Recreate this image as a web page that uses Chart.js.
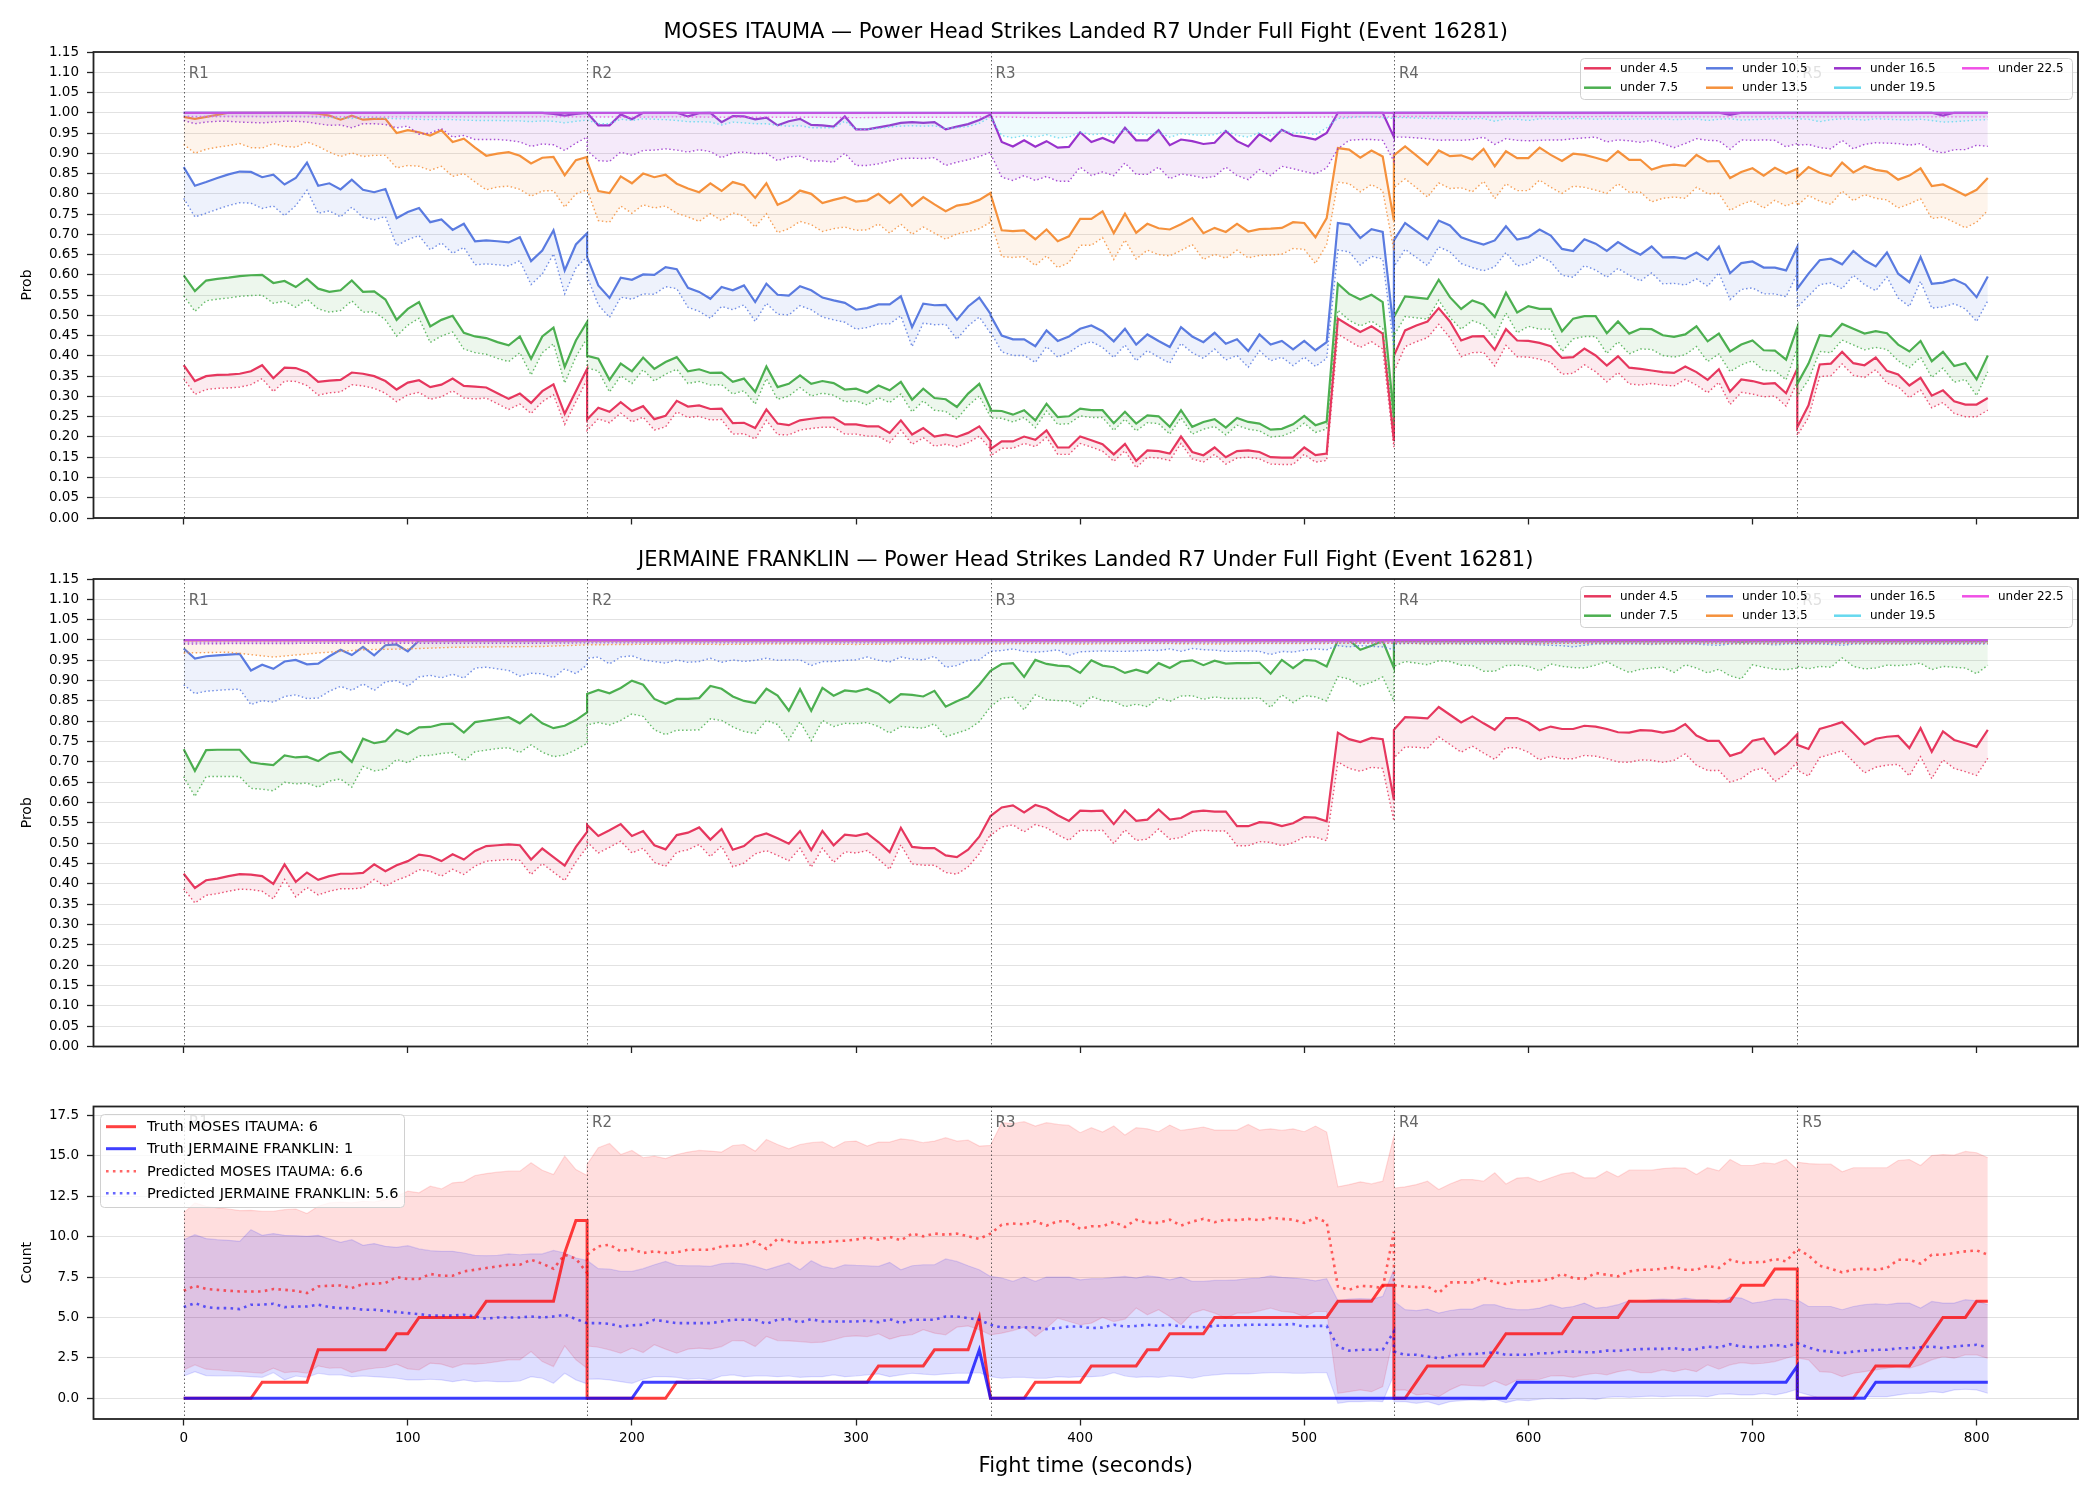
<!DOCTYPE html>
<html>
<head>
<meta charset="utf-8">
<script src="https://cdn.jsdelivr.net/npm/chart.js@4.4.1/dist/chart.umd.min.js"></script>
<style>
  body { margin: 0; background: #fff; width: 2100px; height: 1500px; overflow: hidden; }
  canvas { position: absolute; left: 0; }
</style>
</head>
<body>
<canvas id="c1" width="2100" height="540" style="top:0px"></canvas>
<canvas id="c2" width="2100" height="540" style="top:540px"></canvas>
<canvas id="c3" width="2100" height="420" style="top:1080px"></canvas>
<script>
// ---- data ----
const fighters = ['MOSES ITAUMA', 'JERMAINE FRANKLIN'];
const truthTotals = [6, 1];
const predTotals = [6.6, 5.6];
const thresholds = ['under 4.5', 'under 7.5', 'under 10.5', 'under 13.5', 'under 16.5', 'under 19.5', 'under 22.5'];
const rounds = [0, 180, 360, 540, 720];
const roundNames = ['R1', 'R2', 'R3', 'R4', 'R5'];
const xTicks = [0, 100, 200, 300, 400, 500, 600, 700, 800];
const probTicks = [0, 0.05, 0.1, 0.15, 0.2, 0.25, 0.3, 0.35, 0.4, 0.45, 0.5, 0.55, 0.6, 0.65, 0.7, 0.75, 0.8, 0.85, 0.9, 0.95, 1, 1.05, 1.1, 1.15];
const countTicks = [0, 2.5, 5, 7.5, 10, 12.5, 15, 17.5];

// fight time (s), the round boundaries appear twice (end of one round, start of next)
const T = [
  0,5,10,15,20,25,30,35,40,45,50,55,60,65,70,75,80,85,90,95,100,105,110,115,120,125,130,135,140,145,150,155,160,165,170,175,180,
  180,185,190,195,200,205,210,215,220,225,230,235,240,245,250,255,260,265,270,275,280,285,290,295,300,305,310,315,320,325,330,335,340,345,350,355,360,
  360,365,370,375,380,385,390,395,400,405,410,415,420,425,430,435,440,445,450,455,460,465,470,475,480,485,490,495,500,505,510,515,520,525,530,535,540,
  540,545,550,555,560,565,570,575,580,585,590,595,600,605,610,615,620,625,630,635,640,645,650,655,660,665,670,675,680,685,690,695,700,705,710,715,720,
  720,725,730,735,740,745,750,755,760,765,770,775,780,785,790,795,800,805];
// coarser times for the lines that sit near 1.0
const TS = [0,20,40,60,80,100,120,140,160,180, 180,200,220,240,260,280,300,320,340,360, 360,380,400,420,440,460,480,500,520,540, 540,560,580,600,620,640,660,680,700,720, 720,740,760,780,805];

// MOSES ITAUMA panel (solid line and dotted line per threshold)
const mSolid45 = [
  0.377,0.338,0.350,0.353,0.354,0.356,0.362,0.377,0.345,0.371,0.370,0.360,0.336,0.339,0.341,0.359,0.356,0.350,0.338,0.317,0.334,0.340,0.323,0.329,0.344,0.326,0.324,0.322,0.308,0.294,0.307,0.284,0.313,0.330,0.257,0.313,0.368,
  0.243,0.272,0.262,0.286,0.264,0.276,0.244,0.252,0.289,0.275,0.278,0.269,0.270,0.234,0.235,0.222,0.268,0.233,0.229,0.241,0.245,0.248,0.248,0.231,0.231,0.226,0.226,0.210,0.241,0.206,0.222,0.201,0.206,0.200,0.210,0.226,0.190,
  0.170,0.189,0.189,0.201,0.193,0.216,0.174,0.174,0.201,0.192,0.182,0.157,0.183,0.141,0.167,0.165,0.159,0.201,0.163,0.155,0.174,0.150,0.165,0.167,0.163,0.150,0.149,0.149,0.174,0.155,0.159,0.492,0.475,0.459,0.473,0.455,0.190,
  0.400,0.463,0.475,0.485,0.518,0.485,0.438,0.448,0.449,0.415,0.466,0.438,0.437,0.432,0.424,0.395,0.397,0.418,0.401,0.376,0.399,0.371,0.368,0.364,0.360,0.358,0.374,0.360,0.341,0.367,0.312,0.342,0.338,0.331,0.333,0.308,0.368,
  0.224,0.278,0.379,0.381,0.410,0.382,0.377,0.396,0.363,0.354,0.327,0.346,0.302,0.315,0.288,0.280,0.280,0.296];
const mDot45 = [
  0.344,0.305,0.317,0.320,0.321,0.323,0.329,0.344,0.312,0.338,0.337,0.327,0.303,0.309,0.311,0.329,0.326,0.320,0.308,0.287,0.304,0.310,0.293,0.299,0.314,0.296,0.294,0.296,0.282,0.268,0.281,0.258,0.287,0.304,0.231,0.287,0.342,
  0.216,0.245,0.235,0.259,0.237,0.249,0.217,0.225,0.262,0.248,0.251,0.242,0.243,0.207,0.208,0.195,0.241,0.206,0.205,0.217,0.221,0.224,0.224,0.207,0.207,0.202,0.202,0.186,0.217,0.182,0.198,0.177,0.182,0.176,0.186,0.202,0.170,
  0.153,0.172,0.172,0.184,0.176,0.199,0.157,0.157,0.184,0.175,0.165,0.140,0.166,0.124,0.150,0.148,0.142,0.184,0.146,0.138,0.157,0.133,0.148,0.150,0.146,0.133,0.132,0.132,0.157,0.138,0.142,0.454,0.437,0.421,0.435,0.417,0.175,
  0.360,0.423,0.435,0.445,0.478,0.445,0.398,0.408,0.409,0.375,0.426,0.398,0.397,0.392,0.384,0.355,0.357,0.378,0.361,0.336,0.359,0.331,0.328,0.332,0.328,0.326,0.342,0.328,0.309,0.335,0.280,0.310,0.306,0.299,0.301,0.276,0.336,
  0.204,0.248,0.349,0.351,0.380,0.352,0.347,0.366,0.333,0.324,0.297,0.316,0.272,0.285,0.258,0.250,0.250,0.266];
const mSolid75 = [
  0.599,0.560,0.586,0.590,0.593,0.597,0.599,0.600,0.580,0.585,0.570,0.590,0.566,0.558,0.562,0.586,0.558,0.559,0.539,0.489,0.516,0.533,0.473,0.489,0.499,0.457,0.448,0.444,0.434,0.426,0.448,0.393,0.448,0.470,0.373,0.438,0.484,
  0.400,0.393,0.341,0.381,0.362,0.396,0.368,0.385,0.397,0.362,0.367,0.358,0.359,0.336,0.344,0.311,0.374,0.323,0.331,0.352,0.331,0.338,0.333,0.317,0.319,0.309,0.327,0.315,0.336,0.292,0.319,0.296,0.293,0.274,0.307,0.331,0.270,
  0.265,0.264,0.255,0.266,0.241,0.282,0.249,0.251,0.270,0.266,0.266,0.234,0.262,0.233,0.253,0.251,0.225,0.266,0.225,0.237,0.244,0.223,0.247,0.237,0.233,0.218,0.220,0.231,0.252,0.229,0.238,0.578,0.553,0.539,0.551,0.533,0.250,
  0.496,0.547,0.544,0.541,0.588,0.545,0.516,0.537,0.527,0.496,0.556,0.507,0.523,0.516,0.516,0.461,0.492,0.498,0.498,0.456,0.485,0.455,0.467,0.466,0.451,0.447,0.453,0.473,0.436,0.455,0.411,0.428,0.438,0.414,0.413,0.391,0.470,
  0.331,0.381,0.451,0.448,0.479,0.467,0.455,0.461,0.456,0.428,0.411,0.437,0.387,0.410,0.375,0.382,0.342,0.401];
const mDot75 = [
  0.549,0.510,0.536,0.540,0.543,0.547,0.549,0.550,0.530,0.535,0.520,0.540,0.516,0.508,0.512,0.536,0.508,0.509,0.489,0.449,0.476,0.493,0.433,0.449,0.459,0.417,0.408,0.404,0.394,0.386,0.408,0.353,0.408,0.430,0.333,0.398,0.444,
  0.370,0.363,0.311,0.351,0.332,0.366,0.338,0.355,0.367,0.332,0.337,0.328,0.329,0.306,0.314,0.281,0.344,0.293,0.301,0.322,0.301,0.308,0.303,0.287,0.289,0.279,0.297,0.285,0.306,0.262,0.289,0.266,0.263,0.244,0.277,0.301,0.250,
  0.247,0.246,0.237,0.248,0.223,0.264,0.231,0.233,0.252,0.248,0.248,0.216,0.244,0.215,0.235,0.233,0.207,0.248,0.207,0.219,0.226,0.205,0.229,0.219,0.215,0.200,0.202,0.213,0.234,0.211,0.220,0.513,0.488,0.474,0.486,0.468,0.230,
  0.450,0.497,0.494,0.491,0.538,0.495,0.466,0.487,0.477,0.446,0.506,0.457,0.473,0.466,0.466,0.411,0.442,0.448,0.448,0.406,0.435,0.405,0.417,0.416,0.401,0.397,0.403,0.423,0.386,0.405,0.361,0.378,0.388,0.364,0.363,0.341,0.420,
  0.301,0.341,0.411,0.408,0.439,0.427,0.415,0.421,0.416,0.388,0.371,0.397,0.347,0.370,0.335,0.342,0.302,0.361];
const mSolid105 = [
  0.866,0.820,0.829,0.839,0.848,0.855,0.854,0.841,0.847,0.823,0.839,0.877,0.820,0.826,0.811,0.835,0.810,0.804,0.812,0.740,0.755,0.765,0.730,0.737,0.711,0.726,0.683,0.685,0.683,0.680,0.693,0.634,0.660,0.710,0.611,0.675,0.703,
  0.644,0.574,0.543,0.593,0.588,0.601,0.600,0.619,0.614,0.568,0.558,0.541,0.570,0.562,0.574,0.533,0.578,0.551,0.549,0.572,0.562,0.544,0.537,0.531,0.514,0.518,0.527,0.527,0.547,0.471,0.529,0.525,0.526,0.489,0.522,0.544,0.504,
  0.500,0.450,0.441,0.441,0.424,0.463,0.437,0.448,0.467,0.475,0.461,0.436,0.467,0.428,0.453,0.437,0.422,0.471,0.448,0.434,0.457,0.430,0.441,0.412,0.453,0.428,0.437,0.416,0.437,0.414,0.434,0.728,0.724,0.691,0.713,0.706,0.460,
  0.685,0.728,0.708,0.688,0.734,0.722,0.693,0.683,0.675,0.685,0.720,0.687,0.693,0.712,0.697,0.664,0.659,0.688,0.677,0.659,0.681,0.664,0.650,0.670,0.643,0.644,0.640,0.655,0.637,0.670,0.604,0.629,0.633,0.618,0.618,0.611,0.669,
  0.566,0.603,0.636,0.640,0.626,0.659,0.636,0.621,0.655,0.603,0.582,0.644,0.578,0.581,0.589,0.576,0.545,0.596];
const mDot105 = [
  0.789,0.743,0.752,0.762,0.771,0.778,0.777,0.764,0.770,0.746,0.771,0.809,0.752,0.758,0.743,0.767,0.742,0.736,0.744,0.672,0.687,0.697,0.662,0.679,0.653,0.668,0.625,0.627,0.625,0.622,0.635,0.576,0.602,0.652,0.553,0.617,0.645,
  0.596,0.526,0.495,0.545,0.540,0.553,0.552,0.571,0.566,0.520,0.510,0.493,0.522,0.514,0.526,0.485,0.530,0.503,0.501,0.524,0.514,0.496,0.489,0.483,0.466,0.470,0.479,0.479,0.499,0.423,0.481,0.477,0.478,0.441,0.474,0.496,0.456,
  0.460,0.410,0.401,0.401,0.384,0.423,0.397,0.408,0.427,0.435,0.421,0.396,0.427,0.388,0.413,0.397,0.382,0.431,0.408,0.394,0.417,0.390,0.401,0.372,0.413,0.388,0.397,0.376,0.397,0.374,0.394,0.661,0.657,0.624,0.646,0.639,0.420,
  0.620,0.663,0.643,0.623,0.669,0.657,0.628,0.618,0.610,0.620,0.655,0.622,0.628,0.647,0.632,0.599,0.594,0.623,0.612,0.594,0.616,0.599,0.585,0.605,0.578,0.579,0.575,0.590,0.572,0.605,0.539,0.564,0.568,0.553,0.553,0.546,0.604,
  0.520,0.548,0.576,0.580,0.566,0.599,0.576,0.561,0.595,0.543,0.522,0.584,0.518,0.521,0.529,0.516,0.485,0.536];
const mSolid135 = [
  0.990,0.985,0.990,0.995,1.000,1.000,1.000,1.000,1.000,1.000,1.000,1.000,0.998,0.993,0.983,0.993,0.983,0.985,0.985,0.950,0.957,0.952,0.944,0.957,0.928,0.936,0.914,0.894,0.899,0.903,0.894,0.875,0.889,0.891,0.846,0.883,0.891,
  0.880,0.807,0.802,0.843,0.826,0.850,0.841,0.847,0.825,0.813,0.804,0.826,0.807,0.829,0.821,0.790,0.826,0.773,0.785,0.808,0.800,0.777,0.785,0.792,0.781,0.784,0.800,0.777,0.799,0.770,0.792,0.774,0.757,0.771,0.775,0.785,0.802,
  0.800,0.710,0.708,0.710,0.688,0.712,0.683,0.695,0.738,0.738,0.757,0.703,0.751,0.704,0.726,0.715,0.712,0.725,0.740,0.703,0.716,0.706,0.726,0.707,0.713,0.714,0.716,0.730,0.728,0.693,0.740,0.913,0.909,0.889,0.907,0.892,0.734,
  0.895,0.917,0.895,0.872,0.907,0.893,0.895,0.885,0.911,0.868,0.905,0.888,0.888,0.914,0.896,0.881,0.899,0.896,0.889,0.881,0.905,0.884,0.884,0.860,0.869,0.872,0.869,0.896,0.880,0.881,0.839,0.854,0.863,0.845,0.864,0.850,0.862,
  0.841,0.866,0.852,0.844,0.877,0.853,0.868,0.859,0.855,0.835,0.845,0.863,0.819,0.823,0.810,0.796,0.810,0.839];
const mDot135 = [
  0.922,0.900,0.910,0.915,0.919,0.924,0.914,0.913,0.924,0.917,0.915,0.928,0.917,0.903,0.892,0.901,0.892,0.895,0.895,0.864,0.870,0.868,0.858,0.868,0.843,0.850,0.829,0.810,0.817,0.819,0.811,0.794,0.807,0.808,0.767,0.800,0.810,
  0.810,0.734,0.730,0.770,0.752,0.773,0.765,0.770,0.752,0.743,0.732,0.751,0.734,0.753,0.745,0.718,0.751,0.704,0.714,0.732,0.724,0.707,0.714,0.718,0.710,0.711,0.726,0.703,0.725,0.700,0.718,0.703,0.688,0.701,0.707,0.714,0.730,
  0.735,0.645,0.643,0.645,0.623,0.647,0.618,0.630,0.673,0.673,0.692,0.638,0.686,0.639,0.661,0.650,0.647,0.660,0.675,0.638,0.651,0.641,0.661,0.642,0.648,0.649,0.651,0.665,0.663,0.628,0.675,0.829,0.825,0.805,0.823,0.808,0.660,
  0.815,0.837,0.815,0.792,0.827,0.813,0.815,0.805,0.831,0.788,0.825,0.808,0.808,0.834,0.816,0.801,0.819,0.816,0.809,0.801,0.825,0.804,0.804,0.780,0.789,0.792,0.789,0.816,0.800,0.801,0.759,0.774,0.783,0.765,0.784,0.770,0.782,
  0.771,0.796,0.782,0.774,0.807,0.783,0.798,0.789,0.785,0.765,0.775,0.788,0.739,0.743,0.730,0.716,0.730,0.759];
const mSolid165 = [
  1,1,1,1,1,1,1,1,1,1,1,1,1,1,1,1,1,1,1,1,1,1,1,1,1,1,1,1,1,1,1,1,1,0.997,0.993,0.997,1,
  1.000,0.969,0.969,0.996,0.984,1.000,1.000,1.000,1.000,0.991,0.999,1.000,0.977,0.992,0.991,0.984,0.988,0.969,0.979,0.985,0.970,0.969,0.966,0.991,0.959,0.959,0.964,0.969,0.975,0.977,0.975,0.977,0.959,0.966,0.972,0.982,0.996,
  0.996,0.928,0.917,0.932,0.916,0.930,0.914,0.916,0.952,0.928,0.938,0.926,0.963,0.932,0.932,0.957,0.920,0.934,0.930,0.923,0.926,0.955,0.930,0.917,0.947,0.930,0.958,0.944,0.940,0.934,0.950,1.000,1.000,1.000,1.000,1.000,0.940,
  1,1,1,1,1,1,1,1,1,1,1,1,1,1,1,1,1,1,1,1,1,1,1,1,1,1,1,1,1,1,0.995,1,1,1,1,1,1,
  1,1,1,1,1,1,1,1,1,1,1,1,1,0.993,1,1,1,1];
const mDot165 = [
  0.981,0.973,0.977,0.979,0.979,0.977,0.976,0.975,0.977,0.979,0.979,0.977,0.973,0.969,0.970,0.963,0.973,0.973,0.971,0.963,0.967,0.947,0.950,0.961,0.940,0.944,0.934,0.934,0.934,0.932,0.928,0.917,0.923,0.921,0.907,0.925,0.940,
  0.907,0.882,0.880,0.903,0.895,0.907,0.908,0.911,0.908,0.903,0.909,0.904,0.889,0.901,0.903,0.899,0.900,0.882,0.891,0.893,0.881,0.881,0.878,0.900,0.870,0.870,0.874,0.881,0.887,0.888,0.887,0.889,0.870,0.878,0.884,0.892,0.903,
  0.900,0.841,0.833,0.845,0.833,0.843,0.831,0.831,0.866,0.845,0.854,0.845,0.876,0.848,0.848,0.866,0.837,0.849,0.845,0.839,0.843,0.866,0.845,0.835,0.860,0.845,0.868,0.862,0.855,0.849,0.864,0.911,0.932,0.934,0.934,0.932,0.880,
  0.940,0.940,0.938,0.936,0.932,0.933,0.932,0.934,0.940,0.922,0.936,0.932,0.931,0.932,0.933,0.933,0.936,0.938,0.940,0.928,0.933,0.931,0.927,0.932,0.924,0.914,0.924,0.936,0.932,0.931,0.910,0.933,0.932,0.933,0.932,0.916,0.924,
  0.920,0.922,0.914,0.911,0.932,0.911,0.922,0.926,0.925,0.924,0.920,0.924,0.907,0.901,0.909,0.909,0.920,0.917];
const mSolid195 = [1,1,1,1,1,1,1,1,1,1, 1,1,1,1,1,1,1,1,1,1, 1,1,1,1,1,1,1,1,1,1, 1,1,1,1,1,1,1,1,1,1, 1,1,1,1,1];
const mDot195 = [
  0.992,0.990,0.991,0.991,0.991,0.991,0.991,0.990,0.991,0.991,0.990,0.990,0.989,0.988,0.988,0.986,0.988,0.988,0.987,0.985,0.985,0.984,0.983,0.984,0.983,0.982,0.981,0.981,0.981,0.980,0.980,0.978,0.980,0.979,0.975,0.979,0.982,
  0.982,0.973,0.973,0.984,0.981,0.985,0.984,0.983,0.981,0.978,0.978,0.977,0.970,0.977,0.975,0.973,0.973,0.969,0.967,0.968,0.963,0.963,0.963,0.979,0.959,0.959,0.961,0.965,0.967,0.968,0.967,0.968,0.961,0.963,0.966,0.974,0.989,
  0.989,0.944,0.938,0.944,0.940,0.946,0.938,0.940,0.952,0.946,0.948,0.944,0.958,0.948,0.946,0.952,0.940,0.948,0.946,0.944,0.946,0.956,0.944,0.940,0.951,0.944,0.956,0.950,0.950,0.946,0.963,0.986,0.988,0.990,0.990,0.988,0.986,
  0.988,0.988,0.987,0.986,0.986,0.985,0.984,0.985,0.986,0.979,0.985,0.984,0.981,0.985,0.985,0.984,0.986,0.985,0.984,0.985,0.984,0.984,0.985,0.984,0.985,0.983,0.984,0.985,0.981,0.984,0.985,0.982,0.983,0.984,0.985,0.986,0.985,
  0.985,0.984,0.978,0.983,0.985,0.984,0.982,0.985,0.984,0.983,0.982,0.984,0.981,0.977,0.978,0.980,0.982,0.983];
const mSolid225 = [1,1,1,1,1,1,1,1,1,1, 1,1,1,1,1,1,1,1,1,1, 1,1,1,1,1,1,1,1,1,1, 1,1,1,1,1,1,1,1,1,1, 1,1,1,1,1];
const mDot225 = [0.991,0.991,0.991,0.991,0.990,0.990,0.990,0.990,0.990,0.990, 0.990,0.989,0.990,0.989,0.989,0.989,0.988,0.989,0.989,0.990,
  0.990,0.988,0.988,0.989,0.988,0.988,0.988,0.989,0.990,0.990, 0.991,0.991,0.990,0.991,0.990,0.991,0.990,0.990,0.990,0.990, 0.990,0.990,0.990,0.990,0.990];

// JERMAINE FRANKLIN panel
const jSolid45 = [
  0.425,0.390,0.409,0.413,0.419,0.424,0.423,0.419,0.400,0.448,0.405,0.428,0.410,0.419,0.425,0.425,0.427,0.448,0.431,0.446,0.456,0.472,0.468,0.456,0.473,0.460,0.481,0.493,0.495,0.497,0.495,0.460,0.487,0.466,0.445,0.491,0.528,
  0.545,0.518,0.532,0.547,0.518,0.530,0.495,0.485,0.520,0.526,0.539,0.509,0.535,0.484,0.493,0.516,0.524,0.512,0.499,0.530,0.483,0.530,0.495,0.521,0.518,0.524,0.503,0.478,0.538,0.491,0.488,0.488,0.470,0.466,0.484,0.516,0.567,
  0.567,0.588,0.593,0.576,0.594,0.586,0.569,0.555,0.580,0.579,0.580,0.547,0.581,0.555,0.558,0.583,0.558,0.562,0.577,0.580,0.578,0.578,0.542,0.542,0.552,0.550,0.542,0.549,0.564,0.563,0.554,0.772,0.756,0.749,0.759,0.756,0.606,
  0.779,0.810,0.809,0.807,0.835,0.816,0.797,0.812,0.795,0.779,0.808,0.808,0.797,0.778,0.787,0.781,0.781,0.789,0.787,0.781,0.773,0.772,0.778,0.777,0.772,0.777,0.793,0.765,0.752,0.752,0.715,0.724,0.752,0.758,0.719,0.740,0.768,
  0.742,0.732,0.781,0.789,0.798,0.771,0.743,0.757,0.762,0.764,0.734,0.783,0.725,0.775,0.754,0.746,0.737,0.779];
const jDot45 = [
  0.388,0.353,0.372,0.376,0.382,0.387,0.386,0.382,0.363,0.411,0.368,0.391,0.373,0.382,0.388,0.388,0.390,0.411,0.394,0.409,0.419,0.435,0.431,0.419,0.436,0.423,0.444,0.456,0.458,0.460,0.458,0.423,0.450,0.429,0.408,0.454,0.491,
  0.503,0.476,0.490,0.505,0.476,0.488,0.453,0.443,0.478,0.484,0.497,0.467,0.493,0.442,0.451,0.474,0.482,0.470,0.457,0.488,0.441,0.488,0.453,0.479,0.476,0.482,0.461,0.436,0.496,0.449,0.446,0.446,0.428,0.424,0.442,0.474,0.522,
  0.519,0.540,0.545,0.528,0.546,0.538,0.521,0.507,0.532,0.531,0.532,0.499,0.533,0.507,0.510,0.535,0.510,0.514,0.529,0.532,0.530,0.530,0.494,0.494,0.504,0.502,0.494,0.501,0.516,0.515,0.506,0.700,0.684,0.677,0.687,0.684,0.555,
  0.710,0.737,0.736,0.734,0.762,0.743,0.724,0.739,0.722,0.706,0.735,0.735,0.724,0.705,0.714,0.708,0.708,0.716,0.714,0.708,0.700,0.699,0.705,0.704,0.699,0.704,0.720,0.692,0.679,0.679,0.650,0.659,0.679,0.685,0.652,0.670,0.700,
  0.680,0.665,0.711,0.719,0.728,0.701,0.673,0.687,0.692,0.694,0.666,0.713,0.659,0.705,0.684,0.676,0.667,0.709];
const jSolid75 = [
  0.731,0.678,0.729,0.730,0.730,0.730,0.699,0.695,0.692,0.716,0.711,0.713,0.702,0.720,0.725,0.700,0.757,0.746,0.751,0.779,0.768,0.785,0.786,0.793,0.794,0.772,0.798,0.802,0.806,0.810,0.795,0.817,0.795,0.783,0.789,0.803,0.822,
  0.867,0.877,0.869,0.882,0.900,0.890,0.855,0.843,0.855,0.855,0.857,0.887,0.880,0.861,0.850,0.845,0.880,0.863,0.826,0.879,0.826,0.882,0.863,0.876,0.873,0.880,0.868,0.846,0.867,0.865,0.861,0.875,0.836,0.849,0.861,0.890,0.924,
  0.924,0.941,0.943,0.909,0.951,0.941,0.937,0.935,0.919,0.950,0.937,0.933,0.919,0.927,0.919,0.943,0.931,0.947,0.950,0.938,0.949,0.942,0.943,0.943,0.944,0.917,0.951,0.931,0.951,0.949,0.935,1.000,1.000,0.976,0.986,0.998,0.931,
  0.997,0.997,0.997,0.997,0.997,0.997,0.997,0.997,0.997,0.997,0.997,0.997,0.997,0.997,0.997,0.997,0.997,0.997,0.997,0.997,0.997,0.997,0.997,0.997,0.997,0.997,0.997,0.997,0.997,0.997,0.997,0.996,0.997,0.997,0.997,0.997,0.997,
  0.997,0.997,0.997,0.997,0.997,0.997,0.997,0.997,0.997,0.997,0.997,0.997,0.997,0.997,0.997,0.997,0.997,0.997];
const jDot75 = [
  0.664,0.615,0.664,0.664,0.664,0.664,0.635,0.633,0.629,0.650,0.646,0.648,0.638,0.653,0.658,0.638,0.689,0.678,0.682,0.706,0.698,0.715,0.716,0.721,0.723,0.703,0.725,0.729,0.733,0.735,0.723,0.742,0.724,0.713,0.717,0.730,0.746,
  0.791,0.797,0.791,0.802,0.818,0.812,0.779,0.767,0.778,0.778,0.779,0.806,0.802,0.786,0.775,0.770,0.802,0.792,0.754,0.799,0.752,0.802,0.787,0.795,0.794,0.797,0.787,0.771,0.787,0.785,0.783,0.794,0.762,0.771,0.780,0.799,0.836,
  0.836,0.857,0.859,0.828,0.865,0.853,0.851,0.850,0.836,0.861,0.851,0.849,0.836,0.842,0.836,0.858,0.849,0.862,0.863,0.854,0.860,0.856,0.856,0.856,0.858,0.834,0.865,0.846,0.863,0.860,0.850,0.910,0.904,0.887,0.896,0.909,0.849,
  0.935,0.947,0.943,0.939,0.949,0.947,0.938,0.937,0.923,0.923,0.937,0.938,0.935,0.924,0.941,0.935,0.932,0.931,0.938,0.947,0.932,0.920,0.928,0.931,0.933,0.920,0.939,0.931,0.919,0.928,0.912,0.904,0.939,0.933,0.928,0.927,0.931,
  0.935,0.929,0.935,0.933,0.956,0.935,0.929,0.931,0.938,0.937,0.939,0.943,0.927,0.935,0.933,0.931,0.917,0.938];
const jSolid105 = [
  0.979,0.954,0.960,0.962,0.964,0.966,0.925,0.939,0.929,0.947,0.951,0.940,0.942,0.960,0.976,0.963,0.983,0.962,0.987,0.989,0.972,0.999,0.999,0.999,0.999,0.999,0.999,0.999,0.999,0.999,0.999,0.999,0.999,0.999,0.999,0.999,0.999,
  0.999,0.999,0.999,0.999,0.999,0.999,0.999,0.999,0.999,0.999,0.999,0.999,0.999,0.999,0.999,0.999,0.999,0.999,0.999,0.999,0.999,0.999,0.999,0.999,0.999,0.999,0.999,0.999,0.999,0.999,0.999,0.999,0.999,0.999,0.999,0.999,0.999,
  0.999,0.999,0.999,0.999,0.999,0.999,0.999,0.999,0.999,0.999,0.999,0.999,0.999,0.999,0.999,0.999,0.999,0.999,0.999,0.999,0.999,0.999,0.999,0.999,0.999,0.999,0.999,0.999,0.999,0.999,0.999,0.999,0.999,0.999,0.999,0.999,0.999,
  0.999,0.999,0.999,0.999,0.999,0.999,0.999,0.999,0.999,0.999,0.999,0.999,0.999,0.999,0.999,0.999,0.999,0.999,0.999,0.999,0.999,0.999,0.999,0.999,0.999,0.999,0.999,0.999,0.999,0.999,0.999,0.999,0.999,0.999,0.999,0.999,0.999,
  0.999,0.999,0.999,0.999,0.999,0.999,0.999,0.999,0.999,0.999,0.999,0.999,0.999,0.999,0.999,0.999,0.999,0.999];
const jDot105 = [
  0.890,0.868,0.874,0.876,0.878,0.879,0.841,0.851,0.847,0.861,0.865,0.856,0.857,0.874,0.886,0.876,0.892,0.876,0.897,0.900,0.886,0.909,0.913,0.907,0.916,0.906,0.931,0.933,0.929,0.925,0.911,0.918,0.917,0.907,0.929,0.917,0.939,
  0.955,0.958,0.941,0.958,0.961,0.951,0.947,0.943,0.951,0.945,0.947,0.955,0.945,0.951,0.947,0.950,0.955,0.950,0.951,0.951,0.937,0.947,0.947,0.950,0.951,0.958,0.950,0.946,0.958,0.953,0.951,0.960,0.933,0.937,0.950,0.951,0.972,
  0.972,0.974,0.978,0.972,0.970,0.972,0.976,0.962,0.971,0.972,0.973,0.972,0.972,0.973,0.975,0.974,0.978,0.972,0.979,0.976,0.975,0.972,0.972,0.973,0.972,0.964,0.972,0.970,0.975,0.978,0.976,0.986,0.983,0.986,0.984,0.983,0.976,
  0.990,0.991,0.991,0.990,0.990,0.991,0.990,0.990,0.990,0.990,0.990,0.990,0.989,0.988,0.987,0.986,0.983,0.987,0.990,0.990,0.990,0.990,0.990,0.989,0.990,0.990,0.990,0.990,0.988,0.987,0.990,0.990,0.990,0.990,0.988,0.990,0.990,
  0.990,0.990,0.990,0.989,0.987,0.990,0.990,0.990,0.990,0.990,0.990,0.990,0.990,0.990,0.990,0.990,0.990,0.990];
const jSolid135 = [0.999,0.999,0.999,0.999,0.999,0.999,0.999,0.999,0.999,0.999, 0.999,0.999,0.999,0.999,0.999,0.999,0.999,0.999,0.999,0.999,
  0.999,0.999,0.999,0.999,0.999,0.999,0.999,0.999,0.999,0.999, 0.999,0.999,0.999,0.999,0.999,0.999,0.999,0.999,0.999,0.999, 0.999,0.999,0.999,0.999,0.999];
const jDot135 = [0.968,0.970,0.958,0.968,0.976,0.978,0.982,0.983,0.984,0.988, 0.988,0.989,0.990,0.989,0.990,0.990,0.989,0.990,0.990,0.990,
  0.990,0.991,0.990,0.991,0.991,0.990,0.991,0.991,0.992,0.992, 0.992,0.991,0.992,0.991,0.992,0.992,0.991,0.992,0.991,0.992, 0.992,0.992,0.991,0.992,0.992];
const jSolid165 = [1,1,1,1,1,1,1,1,1,1, 1,1,1,1,1,1,1,1,1,1, 1,1,1,1,1,1,1,1,1,1, 1,1,1,1,1,1,1,1,1,1, 1,1,1,1,1];
const jDot165 = [0.990,0.991,0.991,0.992,0.992,0.992,0.992,0.992,0.992,0.993, 0.993,0.993,0.993,0.993,0.993,0.993,0.993,0.993,0.993,0.993,
  0.993,0.993,0.993,0.993,0.993,0.993,0.993,0.993,0.993,0.993, 0.993,0.993,0.993,0.993,0.993,0.993,0.993,0.993,0.993,0.993, 0.993,0.993,0.993,0.993,0.993];
const jSolid195 = [1,1,1,1,1,1,1,1,1,1, 1,1,1,1,1,1,1,1,1,1, 1,1,1,1,1,1,1,1,1,1, 1,1,1,1,1,1,1,1,1,1, 1,1,1,1,1];
const jDot195 = [0.994,0.994,0.994,0.994,0.994,0.994,0.994,0.994,0.994,0.994, 0.994,0.994,0.994,0.994,0.994,0.994,0.994,0.994,0.994,0.994,
  0.994,0.994,0.994,0.994,0.994,0.994,0.994,0.994,0.994,0.994, 0.994,0.994,0.994,0.994,0.994,0.994,0.994,0.994,0.994,0.994, 0.994,0.994,0.994,0.994,0.994];
const jSolid225 = [1,1,1,1,1,1,1,1,1,1, 1,1,1,1,1,1,1,1,1,1, 1,1,1,1,1,1,1,1,1,1, 1,1,1,1,1,1,1,1,1,1, 1,1,1,1,1];
const jDot225 = [0.995,0.995,0.995,0.995,0.995,0.995,0.995,0.995,0.995,0.995, 0.995,0.995,0.995,0.995,0.995,0.995,0.995,0.995,0.995,0.995,
  0.995,0.995,0.995,0.995,0.995,0.995,0.995,0.995,0.995,0.995, 0.995,0.995,0.995,0.995,0.995,0.995,0.995,0.995,0.995,0.995, 0.995,0.995,0.995,0.995,0.995];

// count panel
const truthM = [
  0,0,0,0,0,0,0,1,1,1,1,1,3,3,3,3,3,3,3,4,4,5,5,5,5,5,5,6,6,6,6,6,6,6,9,11,11,
  0,0,0,0,0,0,0,0,1,1,1,1,1,1,1,1,1,1,1,1,1,1,1,1,1,1,2,2,2,2,2,3,3,3,3,5,0,
  0,0,0,0,1,1,1,1,1,2,2,2,2,2,3,3,4,4,4,4,5,5,5,5,5,5,5,5,5,5,5,6,6,6,6,7,7,
  0,0,1,2,2,2,2,2,2,3,4,4,4,4,4,4,5,5,5,5,5,6,6,6,6,6,6,6,6,6,6,7,7,7,8,8,8,
  0,0,0,0,0,0,1,2,2,2,2,3,4,5,5,5,6,6];
const truthJ = [
  0,0,0,0,0,0,0,0,0,0,0,0,0,0,0,0,0,0,0,0,0,0,0,0,0,0,0,0,0,0,0,0,0,0,0,0,0,
  0,0,0,0,0,1,1,1,1,1,1,1,1,1,1,1,1,1,1,1,1,1,1,1,1,1,1,1,1,1,1,1,1,1,1,3,0,
  0,0,0,0,0,0,0,0,0,0,0,0,0,0,0,0,0,0,0,0,0,0,0,0,0,0,0,0,0,0,0,0,0,0,0,0,0,
  0,0,0,0,0,0,0,0,0,0,0,1,1,1,1,1,1,1,1,1,1,1,1,1,1,1,1,1,1,1,1,1,1,1,1,1,2,
  0,0,0,0,0,0,0,1,1,1,1,1,1,1,1,1,1,1];
const predM = [
  6.65,6.96,6.76,6.71,6.65,6.61,6.61,6.61,6.76,6.71,6.65,6.51,6.92,6.96,6.98,6.82,7.07,7.09,7.13,7.50,7.38,7.38,7.69,7.58,7.58,7.85,7.95,8.06,8.16,8.26,8.26,8.57,8.33,8.02,8.88,8.64,7.75,
  8.88,9.40,9.50,9.09,9.24,8.99,9.09,8.99,9.03,9.19,9.19,9.19,9.40,9.44,9.46,9.71,9.24,9.86,9.71,9.61,9.65,9.65,9.71,9.75,9.81,9.96,9.81,9.98,9.77,10.19,10.02,10.19,10.12,10.19,10.02,9.86,10.19,
  10.19,10.74,10.81,10.76,10.95,10.68,10.95,10.95,10.48,10.64,10.64,10.91,10.60,11.05,10.85,10.85,11.05,10.68,10.93,11.10,10.89,11.05,11.01,11.10,11.01,11.16,11.10,11.05,10.85,11.16,10.89,6.92,6.71,6.96,6.92,6.82,10.30,
  7.00,6.92,6.88,6.92,6.51,7.17,7.17,7.17,7.44,7.17,7.07,7.23,7.23,7.27,7.38,7.69,7.44,7.38,7.75,7.64,7.54,7.85,7.95,7.95,8.02,8.12,7.95,7.95,8.20,8.06,8.57,8.37,8.41,8.43,8.62,8.47,9.24,
  9.24,8.84,8.20,8.02,7.79,7.95,8.02,7.95,8.06,8.57,8.57,8.33,8.88,8.88,8.99,9.09,9.15,8.88];
const predJ = [
  5.64,5.89,5.64,5.58,5.58,5.52,5.79,5.79,5.85,5.64,5.68,5.68,5.79,5.64,5.58,5.58,5.48,5.48,5.41,5.33,5.27,5.21,5.12,5.12,5.12,5.17,5.06,4.92,5.00,5.00,5.00,5.06,5.00,5.06,5.17,4.90,4.65,
  4.65,4.65,4.61,4.44,4.52,4.55,4.86,4.75,4.65,4.65,4.65,4.65,4.75,4.86,4.86,4.86,4.61,4.86,4.90,4.69,4.90,4.75,4.75,4.75,4.75,4.81,4.71,4.90,4.65,4.86,4.86,4.86,5.06,5.06,4.96,4.86,4.55,
  4.55,4.38,4.40,4.38,4.40,4.28,4.34,4.44,4.44,4.34,4.38,4.55,4.44,4.48,4.55,4.48,4.55,4.44,4.40,4.40,4.48,4.50,4.50,4.55,4.55,4.55,4.55,4.59,4.44,4.48,4.48,3.20,2.95,3.00,3.00,3.00,4.13,
  2.90,2.69,2.69,2.58,2.48,2.62,2.73,2.73,2.79,2.85,2.69,2.69,2.69,2.79,2.79,2.89,2.89,2.85,2.85,2.95,2.93,3.00,3.04,3.06,3.06,3.10,3.00,3.04,3.20,3.14,3.35,3.20,3.16,3.20,3.31,3.20,3.41,
  3.41,3.14,2.95,2.89,2.79,2.89,2.95,3.00,3.00,3.10,3.10,3.16,3.20,3.10,3.20,3.26,3.31,3.16];
const bandMHi = [
  11.47,12.09,11.88,11.78,11.71,11.61,11.63,11.57,11.57,11.67,11.71,11.43,11.88,12.09,12.13,12.09,12.19,12.15,12.29,12.50,12.81,12.71,13.12,12.95,13.33,13.39,13.78,13.90,13.99,14.05,14.05,14.57,14.11,13.84,14.98,14.15,13.78,
  14.46,15.50,15.76,15.08,15.33,14.88,14.98,14.83,15.08,15.23,15.33,15.29,15.23,15.64,15.70,15.29,16.01,15.70,15.43,15.70,15.81,15.87,15.50,15.87,15.91,15.60,15.85,15.85,16.05,15.97,15.81,15.91,16.12,15.91,15.97,15.60,15.64,
  15.64,17.05,17.00,17.11,16.84,17.05,16.94,16.88,16.43,16.74,16.47,16.84,16.28,16.74,16.67,16.49,16.90,16.57,16.67,16.78,16.59,16.59,16.59,16.94,16.59,16.67,16.57,16.67,16.49,16.84,16.47,13.08,13.22,13.39,13.26,13.43,16.22,
  13.00,13.08,13.22,13.43,12.91,13.26,13.53,13.53,13.43,13.95,13.26,13.62,13.66,13.39,13.64,13.88,13.97,13.64,13.64,14.05,13.70,14.11,14.11,14.11,14.21,14.26,14.24,13.84,14.26,14.07,14.77,14.40,14.40,14.57,14.50,14.77,14.15,
  14.60,14.52,14.48,14.48,14.01,14.26,14.26,14.26,14.26,14.71,14.77,14.40,15.02,15.08,15.04,15.27,15.19,14.88];
const bandMLo = [
  1.76,2.07,1.80,1.76,1.69,1.65,1.61,1.55,1.86,1.59,1.65,1.55,2.00,1.86,1.90,1.59,1.76,1.86,1.92,2.11,1.82,1.76,2.17,2.11,1.90,2.13,2.11,2.17,2.27,2.38,2.38,2.89,2.27,1.96,3.24,2.38,1.86,
  3.24,3.16,3.00,2.79,3.10,2.83,3.31,3.04,2.79,3.04,3.10,3.04,3.20,3.57,3.55,3.20,3.82,3.57,3.55,3.51,3.45,3.47,3.62,3.82,3.86,3.82,3.99,3.66,3.86,3.93,4.24,4.03,3.93,4.40,4.48,4.24,3.93,
  3.93,4.03,4.19,4.40,3.82,4.34,4.96,4.75,4.55,4.65,5.00,4.75,4.90,5.58,5.17,5.48,5.06,4.55,5.27,5.48,5.27,4.96,5.27,5.27,5.41,5.58,5.37,5.31,5.06,5.37,5.37,0.31,0.41,0.52,0.41,0.72,3.93,
  0.50,0.52,0.21,0.27,0.10,0.52,0.83,0.79,0.76,1.07,0.79,1.14,1.14,1.18,1.38,1.40,1.30,1.45,1.55,1.45,1.65,1.76,1.59,1.59,1.76,1.65,1.80,1.65,2.07,1.80,2.07,2.21,2.13,2.17,2.27,2.48,2.69,
  2.50,2.38,1.65,1.61,1.34,1.55,1.65,1.76,1.86,1.96,1.86,2.07,2.38,2.58,2.48,2.69,2.69,2.48];
const bandJHi = [
  9.81,10.12,9.88,9.81,9.77,9.71,10.43,10.08,10.19,10.08,10.06,10.02,10.08,9.86,9.65,9.81,9.46,9.57,9.40,9.34,9.44,9.24,9.13,9.09,9.09,8.99,8.84,8.82,8.84,8.93,8.88,8.93,8.93,9.15,8.99,8.68,8.53,
  8.53,8.02,8.00,7.85,7.85,8.02,8.26,8.47,8.22,8.20,8.20,8.16,8.33,8.37,8.31,8.16,7.95,8.16,8.37,7.95,8.51,8.16,8.02,8.26,8.22,8.20,8.16,8.41,7.95,8.20,8.26,8.26,8.62,8.47,8.20,7.95,7.54,
  7.54,7.44,7.23,7.50,7.23,7.50,7.50,7.50,7.33,7.40,7.40,7.48,7.54,7.44,7.58,7.50,7.33,7.50,7.23,7.23,7.29,7.29,7.33,7.40,7.44,7.58,7.48,7.44,7.38,7.27,7.40,6.05,6.14,6.16,6.14,6.30,7.95,
  6.00,5.48,5.43,5.52,5.27,5.43,5.52,5.52,5.79,5.79,5.58,5.48,5.48,5.58,5.79,5.58,5.68,5.89,5.58,5.64,5.79,6.05,5.99,6.10,6.14,6.10,6.20,6.10,6.10,5.89,6.26,6.20,5.89,5.99,6.14,6.14,5.99,
  6.10,5.68,5.68,5.68,5.48,5.68,5.79,5.85,5.79,5.89,5.89,5.58,5.99,5.89,5.89,6.10,6.03,5.79];
const bandJLo = [
  1.38,1.65,1.40,1.38,1.38,1.38,1.34,1.30,1.59,1.14,1.38,1.30,1.55,1.45,1.45,1.34,1.38,1.34,1.30,1.24,1.14,1.14,1.18,1.14,1.03,1.14,1.03,1.07,1.03,1.03,1.07,1.34,1.24,0.93,1.55,1.14,0.89,
  1.18,1.20,1.14,1.03,0.93,1.18,1.34,1.34,1.30,1.18,1.24,1.14,1.38,1.45,1.34,1.38,1.38,1.34,1.38,1.30,1.34,1.34,1.45,1.34,1.38,1.45,1.51,1.34,1.45,1.55,1.49,1.45,1.51,1.55,1.55,1.59,1.34,
  1.34,1.24,1.30,1.30,1.24,1.24,1.34,1.30,1.34,1.34,1.38,1.59,1.38,1.30,1.34,1.30,1.38,1.34,1.24,1.38,1.45,1.51,1.51,1.51,1.55,1.59,1.59,1.55,1.55,1.59,1.59,-0.31,-0.21,-0.21,-0.17,-0.21,1.45,
  -0.20,-0.21,-0.31,-0.21,-0.41,-0.21,-0.14,-0.10,-0.14,-0.06,-0.27,-0.10,-0.14,-0.06,0.00,-0.04,0.00,0.00,-0.06,0.06,0.10,0.06,0.10,0.14,0.10,0.14,0.14,0.14,0.10,0.25,0.27,0.21,0.21,0.31,0.21,0.35,0.56,
  0.40,0.21,0.00,0.00,0.00,0.04,0.10,0.10,0.10,0.21,0.31,0.31,0.41,0.35,0.52,0.56,0.52,0.31];

// ---- drawing ----
const colors = ['#e6375e', '#4caf50', '#5a7be0', '#f5913c', '#9932cc', '#66d9ef', '#f050e6'];
const topLineColor = '#c155e0';
const FONT = 'DejaVu Sans';
Chart.defaults.font.family = FONT;
Chart.defaults.color = '#000';

function pts(ts, vs) {
  if (ts.length !== vs.length) console.warn('length mismatch', ts.length, vs.length);
  const n = Math.min(ts.length, vs.length);
  const out = [];
  for (let i = 0; i < n; i++) out.push({x: ts[i], y: vs[i]});
  return out;
}
function rgba(hex, a) {
  const n = parseInt(hex.slice(1), 16);
  return `rgba(${n >> 16},${(n >> 8) & 255},${n & 255},${a})`;
}

function probSets(series) {
  const sets = [];
  series.forEach((s, k) => {
    const i = sets.length;
    sets.push({data: pts(s.ts, s.solid), borderColor: k === 6 ? topLineColor : colors[k], borderWidth: 2.2,
      fill: {target: i + 1}, backgroundColor: rgba(colors[k], 0.1)});
    sets.push({data: pts(s.dts, s.dot), borderColor: rgba(colors[k], 0.85), borderWidth: 1.4,
      borderDash: [1.5, 2.5], fill: false});
  });
  sets.forEach((d, i) => { d.order = -i; d.pointRadius = 0; d.tension = 0; });
  return sets;
}

function decor(cfg) {
  return {
    id: 'decor',
    afterDatasetsDraw(chart) {
      const {ctx, chartArea: a, scales: {x, y}} = chart;
      ctx.save();
      ctx.beginPath(); ctx.rect(a.left, a.top, a.right - a.left, a.bottom - a.top); ctx.clip();
      ctx.strokeStyle = 'rgba(50,50,50,0.75)'; ctx.lineWidth = 1; ctx.setLineDash([1.5, 2.5]);
      rounds.forEach(t => {
        const px = Math.round(x.getPixelForValue(t)) + 0.5;
        ctx.beginPath(); ctx.moveTo(px, a.top); ctx.lineTo(px, a.bottom); ctx.stroke();
      });
      ctx.setLineDash([]);
      ctx.fillStyle = '#666'; ctx.font = `15px "${FONT}"`; ctx.textBaseline = 'middle'; ctx.textAlign = 'left';
      rounds.forEach((t, i) => ctx.fillText(roundNames[i], x.getPixelForValue(t) + 5, y.getPixelForValue(cfg.labelY)));
      ctx.restore();

      // legend box
      const L = cfg.legend;
      ctx.save();
      const [bx, by, bw, bh] = L.box;
      ctx.beginPath();
      ctx.roundRect(bx + 0.5, by + 0.5, bw, bh, 4);
      ctx.fillStyle = 'rgba(255,255,255,0.8)'; ctx.fill();
      ctx.strokeStyle = '#d0d0d0'; ctx.lineWidth = 1; ctx.stroke();
      ctx.font = `${L.size}px "${FONT}"`; ctx.textBaseline = 'middle'; ctx.textAlign = 'left';
      L.items.forEach(it => {
        ctx.beginPath(); ctx.setLineDash(it.dash || []); ctx.strokeStyle = it.color; ctx.lineWidth = it.width;
        ctx.moveTo(it.x, it.y); ctx.lineTo(it.x + L.handle, it.y); ctx.stroke();
        ctx.setLineDash([]); ctx.fillStyle = '#000';
        ctx.fillText(it.label, it.x + L.handle + L.gap, it.y + 0.5);
      });
      ctx.restore();

      // axes frame
      ctx.save();
      ctx.strokeStyle = '#222'; ctx.lineWidth = 1.8;
      ctx.strokeRect(a.left, a.top, a.right - a.left, a.bottom - a.top);
      ctx.restore();

      // panel title, centred over the plotting area
      if (cfg.title) {
        ctx.save();
        ctx.font = `21px "${FONT}"`; ctx.fillStyle = '#000';
        ctx.textAlign = 'center'; ctx.textBaseline = 'middle';
        ctx.fillText(cfg.title, (a.left + a.right) / 2, cfg.titleY);
        ctx.restore();
      }
    }
  };
}

const legendColX = [1584, 1706, 1834, 1962];
function probLegend(top) {
  return {box: [1580, top, 492, 41], size: 12, handle: 27, gap: 9,
    items: thresholds.map((lab, k) => ({label: lab, color: colors[k], width: 2.5,
      x: legendColX[Math.floor(k / 2)], y: top + (k % 2 ? 29.7 : 10.3)}))};
}

function xScale(height, showLabels, title) {
  return {
    type: 'linear', min: -40.25, max: 845.25,
    afterBuildTicks: s => { s.ticks = xTicks.map(v => ({value: v})); },
    afterFit: s => { s.height = height; },
    grid: {color: 'rgba(0,0,0,0)', drawTicks: true, tickLength: 6.5, tickColor: '#222', tickWidth: 1.3},
    border: {display: false},
    ticks: {display: showLabels, padding: 5, font: {size: 13.5}, maxRotation: 0, callback: v => String(v)},
    title: title ? {display: true, text: title, font: {size: 21}, padding: {top: 0, bottom: 21}} : {display: false}
  };
}
function yScale(min, max, ticks, digits, label) {
  return {
    min: min, max: max,
    afterBuildTicks: s => { s.ticks = ticks.map(v => ({value: v})); },
    afterFit: s => { s.width = 93.5; },
    grid: {color: '#e2e2e2', lineWidth: 1, drawTicks: true, tickLength: 6.5, tickColor: '#222', tickWidth: 1.3},
    border: {display: false},
    ticks: {padding: 8, font: {size: 13.5}, callback: v => Number(v).toFixed(digits)},
    title: {display: true, text: label, font: {size: 14}, padding: {top: 19, bottom: 0}}
  };
}
function baseOptions() {
  return {responsive: false, animation: false, devicePixelRatio: 1, events: [],
    plugins: {legend: {display: false}, tooltip: {enabled: false}}};
}

function probChart(id, name, solids, dots, tsSolid, tsDot, areaTop, titleY, xH, legendTop) {
  const series = solids.map((s, k) => ({solid: s, dot: dots[k], ts: tsSolid[k], dts: tsDot[k]}));
  const opts = baseOptions();
  opts.layout = {padding: {left: 0, right: 22, top: areaTop, bottom: 0}};
  opts.scales = {x: xScale(xH, false, null), y: yScale(0, 1.15, probTicks, 2, 'Prob')};
  const title = `${name} — Power Head Strikes Landed R7 Under Full Fight (Event 16281)`;
  return new Chart(document.getElementById(id), {
    type: 'line', data: {datasets: probSets(series)}, options: opts,
    plugins: [decor({labelY: 1.095, legend: probLegend(legendTop), title: title, titleY: titleY})]
  });
}

probChart('c1', fighters[0],
  [mSolid45, mSolid75, mSolid105, mSolid135, mSolid165, mSolid195, mSolid225],
  [mDot45, mDot75, mDot105, mDot135, mDot165, mDot195, mDot225],
  [T, T, T, T, T, TS, TS], [T, T, T, T, T, T, TS],
  52, 33, 22, 58);

probChart('c2', fighters[1],
  [jSolid45, jSolid75, jSolid105, jSolid135, jSolid165, jSolid195, jSolid225],
  [jDot45, jDot75, jDot105, jDot135, jDot165, jDot195, jDot225],
  [T, T, T, TS, TS, TS, TS], [T, T, T, TS, TS, TS, TS],
  39, 20.8, 33.5, 46);

// count panel
(function () {
  const red = 'rgba(255,0,0,', blue = 'rgba(0,0,255,';
  const sets = [
    {data: pts(T, bandMHi), borderColor: red + '0.13)', borderWidth: 1.2, fill: {target: 1}, backgroundColor: red + '0.13)'},
    {data: pts(T, bandMLo), borderColor: red + '0.13)', borderWidth: 1.2, fill: false},
    {data: pts(T, bandJHi), borderColor: blue + '0.13)', borderWidth: 1.2, fill: {target: 3}, backgroundColor: blue + '0.13)'},
    {data: pts(T, bandJLo), borderColor: blue + '0.13)', borderWidth: 1.2, fill: false},
    {data: pts(T, truthM), borderColor: red + '0.75)', borderWidth: 3, fill: false},
    {data: pts(T, truthJ), borderColor: blue + '0.75)', borderWidth: 3, fill: false},
    {data: pts(T, predM), borderColor: red + '0.6)', borderWidth: 2.6, borderDash: [2.6, 4.3], fill: false},
    {data: pts(T, predJ), borderColor: blue + '0.6)', borderWidth: 2.6, borderDash: [2.6, 4.3], fill: false}
  ];
  sets.forEach((d, i) => { d.order = -i; d.pointRadius = 0; d.tension = 0; });

  const legend = {box: [100, 34, 304, 93], size: 14.5, handle: 30, gap: 11, items: [
    {label: `Truth ${fighters[0]}: ${truthTotals[0]}`, color: red + '0.75)', width: 3, x: 106, y: 46.7},
    {label: `Truth ${fighters[1]}: ${truthTotals[1]}`, color: blue + '0.75)', width: 3, x: 106, y: 68.7},
    {label: `Predicted ${fighters[0]}: ${predTotals[0]}`, color: red + '0.6)', width: 2.6, dash: [2.6, 4.3], x: 106, y: 91.3},
    {label: `Predicted ${fighters[1]}: ${predTotals[1]}`, color: blue + '0.6)', width: 2.6, dash: [2.6, 4.3], x: 106, y: 113.3}
  ]};

  const opts = baseOptions();
  opts.layout = {padding: {left: 0, right: 22, top: 26.5, bottom: 0}};
  opts.scales = {x: xScale(81, true, 'Fight time (seconds)'), y: yScale(-1.28, 18.05, countTicks, 1, 'Count')};
  new Chart(document.getElementById('c3'), {
    type: 'line', data: {datasets: sets}, options: opts,
    plugins: [decor({labelY: 17.0, legend: legend})]
  });
})();
</script>
</body>
</html>
